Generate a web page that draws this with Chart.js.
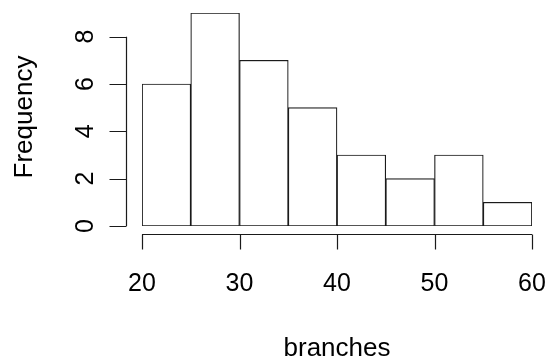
<!DOCTYPE html>
<html>
<head>
<meta charset="utf-8">
<script src="https://cdn.jsdelivr.net/npm/chart.js@4/dist/chart.umd.min.js"></script>
<style>
  html, body { margin: 0; padding: 0; background: #ffffff; }
  #wrap { width: 549px; height: 362px; }
</style>
</head>
<body>
<div id="wrap"><canvas id="hist" width="549" height="362"></canvas></div>
<script>
// Histogram of branches: bin edges and counts
const binStarts = [20, 25, 30, 35, 40, 45, 50, 55];
const binWidth = 5;
const counts = [6, 9, 7, 5, 3, 2, 3, 1];
const xTicks = [20, 30, 40, 50, 60];
const yTicks = [0, 2, 4, 6, 8];
const xTitle = 'branches';
const yTitle = 'Frequency';

const FONT = '"Liberation Sans", Arial, sans-serif';
const TICK_SIZE = 25;
const TITLE_SIZE = 26;
const INK = '#1a1a1a';

// R-style detached axes drawn from the chart's own scales
const rAxes = {
  id: 'rAxes',
  afterDraw(chart) {
    const ctx = chart.ctx;
    const xs = chart.scales.x;
    const ys = chart.scales.y;
    const base = ys.getPixelForValue(0);
    ctx.save();
    ctx.strokeStyle = INK;
    ctx.lineWidth = 1.2;
    ctx.fillStyle = '#000';
    ctx.textAlign = 'center';
    ctx.textBaseline = 'alphabetic';

    // x axis
    const axY = Math.round(base + 8) + 0.5;
    const x0 = xs.getPixelForValue(xTicks[0]);
    const x1 = xs.getPixelForValue(xTicks[xTicks.length - 1]);
    ctx.beginPath();
    ctx.moveTo(x0, axY); ctx.lineTo(x1, axY);
    xTicks.forEach(v => {
      const px = Math.round(xs.getPixelForValue(v)) + 0.5;
      ctx.moveTo(px, axY); ctx.lineTo(px, axY + 15);
    });
    ctx.stroke();
    ctx.font = TICK_SIZE + 'px ' + FONT;
    xTicks.forEach(v => {
      ctx.fillText(String(v), xs.getPixelForValue(v), 291);
    });
    ctx.font = TITLE_SIZE + 'px ' + FONT;
    ctx.fillText(xTitle, (x0 + x1) / 2, 356);

    // y axis
    const axX = Math.round(xs.getPixelForValue(xTicks[0]) - 16) + 0.5;
    const y0 = ys.getPixelForValue(yTicks[0]);
    const y1 = ys.getPixelForValue(yTicks[yTicks.length - 1]);
    ctx.beginPath();
    ctx.moveTo(axX, y0); ctx.lineTo(axX, y1);
    yTicks.forEach(v => {
      const py = Math.round(ys.getPixelForValue(v)) + 0.5;
      ctx.moveTo(axX, py); ctx.lineTo(axX - 17, py);
    });
    ctx.stroke();
    ctx.font = TICK_SIZE + 'px ' + FONT;
    yTicks.forEach(v => {
      const py = ys.getPixelForValue(v);
      ctx.save();
      ctx.translate(93, py);
      ctx.rotate(-Math.PI / 2);
      ctx.fillText(String(v), 0, 0);
      ctx.restore();
    });
    ctx.font = TITLE_SIZE + 'px ' + FONT;
    ctx.save();
    ctx.translate(32, 117);
    ctx.rotate(-Math.PI / 2);
    ctx.fillText(yTitle, 0, 0);
    ctx.restore();
    ctx.restore();
  }
};

new Chart(document.getElementById('hist'), {
  type: 'bar',
  data: {
    datasets: [{
      data: binStarts.map((s, i) => ({ x: s + binWidth / 2, y: counts[i] })),
      backgroundColor: '#ffffff',
      borderColor: INK,
      borderWidth: 1.2,
      borderSkipped: false,
      barPercentage: 1,
      categoryPercentage: 1
    }]
  },
  options: {
    responsive: false,
    animation: false,
    layout: { padding: { left: 142, right: 17, top: 13, bottom: 136 } },
    plugins: { legend: { display: false }, tooltip: { enabled: false } },
    scales: {
      x: { type: 'linear', min: 20, max: 60, offset: false, display: false },
      y: { min: 0, max: 9, display: false }
    }
  },
  plugins: [rAxes]
});
</script>
</body>
</html>
